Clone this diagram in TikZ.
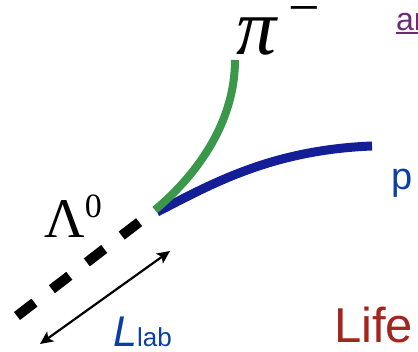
\documentclass[tikz,border=0pt]{standalone}
\usepackage{fontspec}
\setmainfont{Liberation Sans}
\newfontfamily\greekfont{Liberation Serif}
\usetikzlibrary{arrows.meta}
\definecolor{trackgreen}{HTML}{3B974A}
\definecolor{tracknavy}{HTML}{141E96}
\definecolor{labelblue}{HTML}{0A3FA6}
\definecolor{lifered}{HTML}{A3261E}
\definecolor{linkpurple}{HTML}{6E2A78}

\begin{document}
\begin{tikzpicture}[
x=1pt, y=-1pt,
track/.style={line width=8pt},
neutral/.style={line width=10pt, dash pattern=on 22pt off 22pt},
span/.style={{Stealth[length=13pt,width=12pt,inset=3pt]}-{Stealth[length=13pt,width=12pt,inset=3pt]}, line width=2.2pt},
tag/.style={inner sep=0pt, anchor=base west}
]
\useasboundingbox (0,0) rectangle (418,352);
\clip (0,0) rectangle (418,352);

% --- Decay vertex and track ends ---
\coordinate (vtx) at (155,210);
\coordinate (lamstart) at (17,316);
\coordinate (piend) at (235,60);
\coordinate (pend) at (372,146);
\coordinate (spanlo) at (40,344);
\coordinate (spanhi) at (170,251);

% --- Tracks ---
\draw [neutral] (lamstart) -- (vtx);
\draw [track, tracknavy, line width=9pt] (157,212) .. controls (210,185) and (270,150) .. (pend);
\draw [track, trackgreen] (vtx) .. controls (200,172) and (235,120) .. (piend);

% --- Flight length ---
\draw [span] (spanlo) -- (spanhi);

% --- Labels ---
\node (pilabel) [tag] at (236,55) {\greekfont\fontsize{80}{80}\selectfont\itshape π};
\node (pisign) [tag] at (288,27) {\greekfont\fontsize{56}{56}\selectfont −};
\node (lamlabel) [tag] at (44,238) {\greekfont\fontsize{56}{56}\selectfont Λ\raisebox{20pt}{\fontsize{34}{34}\selectfont 0}};
\node (lablabel) [tag, labelblue] at (113,347) {\fontsize{43}{43}\selectfont\itshape L\upshape\fontsize{26}{26}\selectfont lab};
\node (plabel) [tag, labelblue] at (391,190) {\fontsize{38}{38}\selectfont p};
\node (life) [tag, lifered] at (334,343) {\fontsize{49}{49}\selectfont Life};
\node (link) [tag, linkpurple] at (396,31) {\fontsize{32}{32}\selectfont\rlap{\rule[-3pt]{40pt}{1.6pt}}an};

\end{tikzpicture}
\end{document}
